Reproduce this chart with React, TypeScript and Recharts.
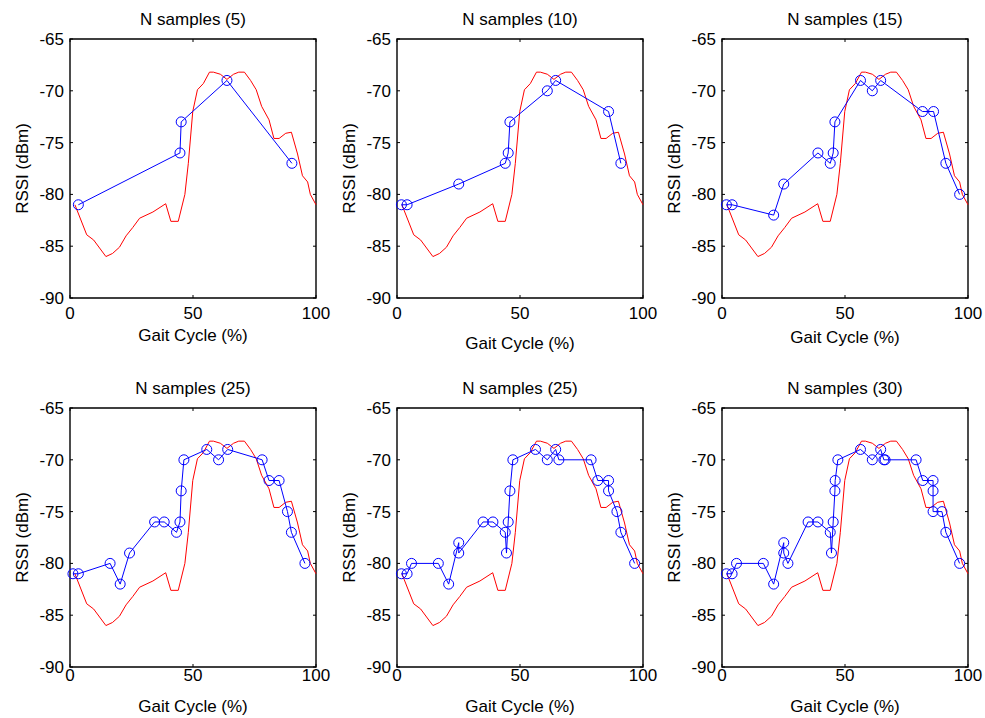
import React from "react";
import { LineChart, Line, XAxis, YAxis, ReferenceArea } from "recharts";

// reference RSSI curve (red), same in every panel
const refX = [2, 6.8, 9.6, 14.6, 17.3, 20.1, 22.8, 25.5, 28.3, 33.7, 38.9, 41, 44, 46.7, 48.1, 49.9, 51.8, 54.2, 56.7, 58.3, 61.1, 63.8, 66.5, 68.6, 70.9, 73.4, 75.7, 77.9, 80.9, 82.9, 85, 87.7, 90, 92.5, 94.5, 96.6, 97.7, 100];
const refY = [-81, -83.9, -84.4, -86, -85.7, -85.1, -84, -83.2, -82.3, -81.7, -80.9, -82.6, -82.6, -80, -77, -72, -69.9, -69.3, -68.2, -68.2, -68.4, -68.9, -68.4, -68.2, -68.2, -69, -69.9, -71.5, -72.8, -74.6, -74.6, -74.1, -74, -76.1, -78.2, -78.8, -80, -81];

// sampled points (blue)
const n5X = [3.4, 44.7, 45.2, 63.8, 90.2];
const n5Y = [-81, -76, -73, -69, -77];
const n10X = [1.8, 4.1, 25.1, 44, 45.2, 45.9, 61.1, 64.5, 86, 91];
const n10Y = [-81, -81, -79, -77, -76, -73, -70, -69, -72, -77];
const n15X = [1.8, 4.1, 21, 25.1, 39, 44, 45.2, 45.9, 56.3, 61.1, 64.5, 81.5, 86, 91, 96.6];
const n15Y = [-81, -81, -82, -79, -76, -77, -76, -73, -69, -70, -69, -72, -72, -77, -80];
const n25aX = [1.2, 3.4, 16.3, 20.4, 24.2, 34.4, 38.3, 43.3, 44.7, 45.2, 46.3, 55.6, 60.4, 64.1, 78.1, 80.9, 85, 88.4, 90, 95.5];
const n25aY = [-81, -81, -80, -82, -79, -76, -76, -77, -76, -73, -70, -69, -70, -69, -70, -72, -72, -75, -77, -80];
const n25bX = [1.8, 4.1, 5.9, 16.8, 21, 25.1, 25.1, 35, 39, 44, 44.5, 45.2, 45.9, 47.1, 56.3, 61.1, 64.5, 65.8, 78.9, 81.6, 86, 86, 89.4, 91, 96.6];
const n25bY = [-81, -81, -80, -80, -82, -78, -79, -76, -76, -77, -79, -76, -73, -70, -69, -70, -69, -70, -70, -72, -72, -73, -75, -77, -80];
const n30X = [1.8, 4.1, 5.9, 16.8, 21, 25.1, 25.1, 26.8, 35, 39, 44, 44.5, 45.2, 45.9, 46, 47.1, 56.3, 61.1, 64.5, 65.8, 66.3, 78.9, 81.6, 85.8, 85.8, 85.8, 89.4, 91, 96.6];
const n30Y = [-81, -81, -80, -80, -82, -78, -79, -80, -76, -76, -77, -79, -76, -73, -72, -70, -69, -70, -69, -70, -70, -70, -72, -72, -73, -75, -75, -77, -80];

const titles = ["N samples (5)", "N samples (10)", "N samples (15)", "N samples (25)", "N samples (25)", "N samples (30)"];
const xTicks = [0, 50, 100];
const yTicks = [-90, -85, -80, -75, -70, -65];

const toPts = (xs: number[], ys: number[]) => xs.map((x, i) => ({ x, y: ys[i] }));
const refData = toPts(refX, refY);
const samples = [
  toPts(n5X, n5Y),
  toPts(n10X, n10Y),
  toPts(n15X, n15Y),
  toPts(n25aX, n25aY),
  toPts(n25bX, n25bY),
  toPts(n30X, n30Y),
];

const FONT = "'Liberation Sans', Arial, sans-serif";
const FS = 17;
const PW = 246;
const PH = 259;
const lefts = [70, 397, 722];
const tops = [39, 408];
const tickDy = [21, 14];
const xLabelDy = [[43, 51, 45], [45, 45, 45]];

const bottomTick = (dy: number) => (props: any) => {
  const { x, y, payload } = props;
  return (
    <g>
      <line x1={x} y1={y} x2={x} y2={y - 3} stroke="#000" />
      <line x1={x} y1={y - PH} x2={x} y2={y - PH + 3} stroke="#000" />
      <text x={x} y={y + dy} textAnchor="middle" fontSize={FS} fontFamily={FONT} fill="#000">
        {payload.value}
      </text>
    </g>
  );
};

const leftTick = (props: any) => {
  const { x, y, payload } = props;
  return (
    <g>
      <line x1={x} y1={y} x2={x + 3} y2={y} stroke="#000" />
      <line x1={x + PW} y1={y} x2={x + PW - 3} y2={y} stroke="#000" />
      <text x={x - 6} y={y + 6} textAnchor="end" fontSize={FS} fontFamily={FONT} fill="#000">
        {payload.value}
      </text>
    </g>
  );
};

function Panel({ idx }: { idx: number }) {
  const row = Math.floor(idx / 3);
  const col = idx % 3;
  return (
    <div style={{ position: "absolute", left: lefts[col] - 60, top: tops[row] - 10 }}>
      <LineChart width={60 + PW + 24} height={10 + PH + 30} margin={{ top: 10, right: 24, bottom: 0, left: 0 }}>
        <XAxis
          dataKey="x"
          type="number"
          domain={[0, 100]}
          ticks={xTicks}
          interval={0}
          height={30}
          axisLine={false}
          tickLine={false}
          tickSize={0}
          tickMargin={0}
          tick={bottomTick(tickDy[row])}
          allowDuplicatedCategory={false}
        />
        <YAxis
          type="number"
          domain={[-90, -65]}
          ticks={yTicks}
          interval={0}
          width={60}
          axisLine={false}
          tickLine={false}
          tickSize={0}
          tickMargin={0}
          tick={leftTick}
          allowDataOverflow
        />
        <ReferenceArea x1={0} x2={100} y1={-90} y2={-65} fill="none" fillOpacity={0} stroke="#000" strokeWidth={1.4} />
        <Line data={refData} dataKey="y" type="linear" stroke="#ff0000" strokeWidth={1} dot={false} isAnimationActive={false} />
        <Line
          data={samples[idx]}
          dataKey="y"
          type="linear"
          stroke="#0000ff"
          strokeWidth={1}
          dot={{ r: 5, stroke: "#0000ff", strokeWidth: 1, fill: "none" }}
          activeDot={false}
          isAnimationActive={false}
        />
      </LineChart>
    </div>
  );
}

export default function App() {
  return (
    <div style={{ position: "absolute", left: 0, top: 0, width: 985, height: 718, background: "#fff" }}>
      {titles.map((_, i) => (
        <Panel key={i} idx={i} />
      ))}
      <svg width={985} height={718} style={{ position: "absolute", left: 0, top: 0, pointerEvents: "none" }}>
        {titles.map((t, i) => {
          const row = Math.floor(i / 3);
          const col = i % 3;
          const cx = lefts[col] + PW / 2;
          const cy = tops[row] + PH / 2;
          const ylx = lefts[col] - 42;
          return (
            <g key={i} fontFamily={FONT} fontSize={FS} fill="#000">
              <text x={cx} y={tops[row] - 14} textAnchor="middle">{t}</text>
              <text x={cx} y={tops[row] + PH + xLabelDy[row][col]} textAnchor="middle">Gait Cycle (%)</text>
              <text x={ylx} y={cy} textAnchor="middle" transform={`rotate(-90 ${ylx} ${cy})`}>RSSI (dBm)</text>
            </g>
          );
        })}
      </svg>
    </div>
  );
}
